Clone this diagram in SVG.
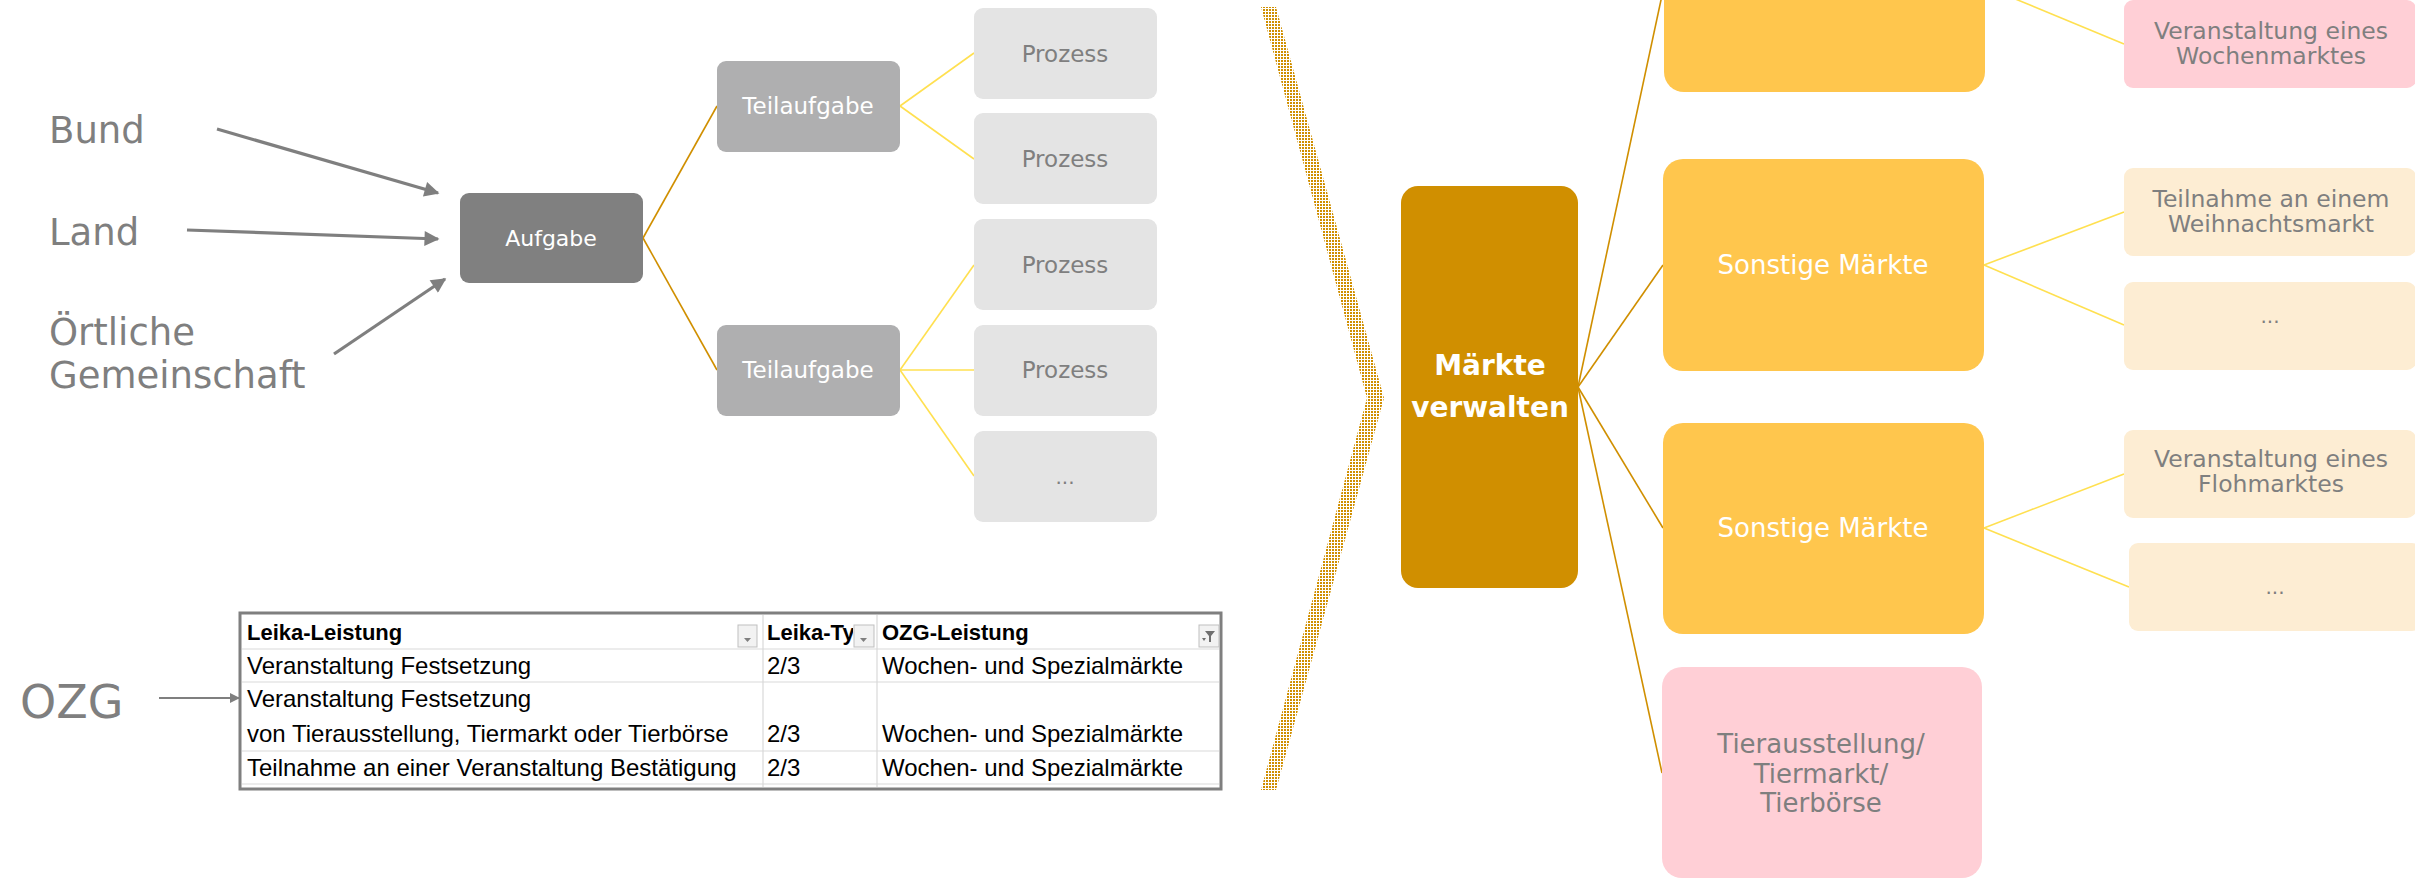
<svg xmlns="http://www.w3.org/2000/svg" width="2415" height="878" viewBox="0 0 2415 878">
<style>
  .t { font-family: "DejaVu Sans", Verdana, sans-serif; }
  .lbl { fill: #7F7F7F; font-size: 37px; }
  .wt { fill: #FFFFFF; text-anchor: middle; }
  .gt { fill: #7F7F7F; text-anchor: middle; }
  .s23 { font-size: 23px; }
  .s26 { font-size: 26px; }
  .oc { stroke: #D08F00; stroke-width: 1.6; fill: none; }
  .yc { stroke: #FFE050; stroke-width: 1.6; fill: none; }
  .ga { stroke: #7F7F7F; stroke-width: 3.2; fill: none; }
  .tb { font-family: "Liberation Sans", Arial, sans-serif; font-size: 24px; fill: #000; }
  .tbh { font-family: "Liberation Sans", Arial, sans-serif; font-size: 22px; font-weight: bold; fill: #000; }
  .grid { stroke: #D9D9D9; stroke-width: 1.2; }
  .btn { fill: #F2F2F2; stroke: #BFBFBF; stroke-width: 1; }
</style>
<defs>
  <marker id="ah" viewBox="0 0 10 10" refX="9" refY="5" markerWidth="17" markerHeight="15" markerUnits="userSpaceOnUse" orient="auto">
    <path d="M0,0 L10,5 L0,10 Z" fill="#7F7F7F"/>
  </marker>
  <marker id="ahs" viewBox="0 0 10 10" refX="9" refY="5" markerWidth="10" markerHeight="10" markerUnits="userSpaceOnUse" orient="auto">
    <path d="M0,0 L10,5 L0,10 Z" fill="#7F7F7F"/>
  </marker>
  <pattern id="dots" width="3" height="3" patternUnits="userSpaceOnUse">
    <rect x="0" y="0" width="2" height="2" fill="#D08F00"/>
  </pattern>
  <clipPath id="col2"><rect x="763" y="613" width="90" height="40"/></clipPath>
</defs>

<!-- Source labels -->
<g id="label-bund"><text class="t lbl" x="49" y="143">Bund</text></g>
<g id="label-land"><text class="t lbl" x="49" y="245">Land</text></g>
<g id="label-oertliche"><text class="t lbl" x="49" y="345">Örtliche</text><text class="t lbl" x="49" y="388">Gemeinschaft</text></g>
<g id="label-ozg"><text class="t" x="20" y="718" font-size="46" fill="#7F7F7F">OZG</text></g>

<!-- Connectors -->
<g id="connectors">
  <line class="ga" x1="217" y1="129" x2="438" y2="193" marker-end="url(#ah)"/>
  <line class="ga" x1="187" y1="230" x2="438" y2="239" marker-end="url(#ah)"/>
  <line class="ga" x1="334" y1="354" x2="445" y2="279" marker-end="url(#ah)"/>
  <line x1="159" y1="698" x2="239" y2="698" stroke="#7F7F7F" stroke-width="2" marker-end="url(#ahs)"/>

  <line class="oc" x1="643" y1="238" x2="717" y2="106"/>
  <line class="oc" x1="643" y1="238" x2="717" y2="370"/>
  <line class="yc" x1="900" y1="106" x2="974" y2="53"/>
  <line class="yc" x1="900" y1="106" x2="974" y2="159"/>
  <line class="yc" x1="900" y1="370" x2="974" y2="265"/>
  <line class="yc" x1="900" y1="370" x2="974" y2="370" stroke-width="2.2"/>
  <line class="yc" x1="900" y1="370" x2="974" y2="476"/>

  <line class="oc" x1="1578" y1="387" x2="1664" y2="-14"/>
  <line class="oc" x1="1578" y1="387" x2="1663" y2="265"/>
  <line class="oc" x1="1578" y1="387" x2="1663" y2="528"/>
  <line class="oc" x1="1578" y1="387" x2="1662" y2="773"/>

  <line class="yc" x1="1984" y1="-14" x2="2124" y2="44"/>
  <line class="yc" x1="1984" y1="265" x2="2124" y2="212"/>
  <line class="yc" x1="1984" y1="265" x2="2124" y2="325"/>
  <line class="yc" x1="1984" y1="528" x2="2124" y2="474"/>
  <line class="yc" x1="1984" y1="528" x2="2129" y2="587"/>
</g>

<!-- Left tree -->
<g id="node-aufgabe">
  <rect x="460" y="193" width="183" height="90" rx="9" fill="#808080"/>
  <text class="t wt" x="551" y="246" font-size="22">Aufgabe</text>
</g>
<g id="node-teilaufgabe-1">
  <rect x="717" y="61" width="183" height="91" rx="9" fill="#AFAFB0"/>
  <text class="t wt s23" x="808" y="114">Teilaufgabe</text>
</g>
<g id="node-teilaufgabe-2">
  <rect x="717" y="325" width="183" height="91" rx="9" fill="#AFAFB0"/>
  <text class="t wt s23" x="808" y="378">Teilaufgabe</text>
</g>
<g id="node-prozess-1">
  <rect x="974" y="8" width="183" height="91" rx="9" fill="#E4E4E4"/>
  <text class="t gt s23" x="1065" y="62">Prozess</text>
</g>
<g id="node-prozess-2">
  <rect x="974" y="113" width="183" height="91" rx="9" fill="#E4E4E4"/>
  <text class="t gt s23" x="1065" y="167">Prozess</text>
</g>
<g id="node-prozess-3">
  <rect x="974" y="219" width="183" height="91" rx="9" fill="#E4E4E4"/>
  <text class="t gt s23" x="1065" y="273">Prozess</text>
</g>
<g id="node-prozess-4">
  <rect x="974" y="325" width="183" height="91" rx="9" fill="#E4E4E4"/>
  <text class="t gt s23" x="1065" y="378">Prozess</text>
</g>
<g id="node-prozess-5">
  <rect x="974" y="431" width="183" height="91" rx="9" fill="#E4E4E4"/>
  <text class="t gt" x="1065" y="484" font-size="20">...</text>
</g>

<!-- Table -->
<g id="table-leika">
  <rect x="240" y="613" width="981" height="176" fill="#FFFFFF" stroke="#7F7F7F" stroke-width="3"/>
  <line class="grid" x1="242" y1="649" x2="1219" y2="649"/>
  <line class="grid" x1="242" y1="682" x2="1219" y2="682"/>
  <line class="grid" x1="242" y1="751" x2="1219" y2="751"/>
  <line class="grid" x1="242" y1="784" x2="1219" y2="784"/>
  <line class="grid" x1="763" y1="615" x2="763" y2="787"/>
  <line class="grid" x1="877" y1="615" x2="877" y2="787"/>
  <text class="tbh" x="247" y="640">Leika-Leistung</text>
  <text class="tbh" x="767" y="640" clip-path="url(#col2)">Leika-Typ</text>
  <text class="tbh" x="882" y="640">OZG-Leistung</text>
  <rect class="btn" x="738" y="625" width="19" height="22"/>
  <path d="M744,638 L751,638 L747.5,642 Z" fill="#7F7F7F"/>
  <rect class="btn" x="854" y="625" width="20" height="22"/>
  <path d="M860,638 L867,638 L863.5,642 Z" fill="#7F7F7F"/>
  <rect class="btn" x="1199" y="625" width="20" height="22"/>
  <path d="M1205,631 L1215,631 L1211,636 L1211,642 L1209,642 L1209,636 Z" fill="#6F6F6F"/>
  <path d="M1202,638 L1206,638 L1204,641 Z" fill="#6F6F6F"/>
  <text class="tb" x="247" y="674">Veranstaltung Festsetzung</text>
  <text class="tb" x="767" y="674">2/3</text>
  <text class="tb" x="882" y="674">Wochen- und Spezialmärkte</text>
  <text class="tb" x="247" y="707">Veranstaltung Festsetzung</text>
  <text class="tb" x="247" y="742">von Tierausstellung, Tiermarkt oder Tierbörse</text>
  <text class="tb" x="767" y="742">2/3</text>
  <text class="tb" x="882" y="742">Wochen- und Spezialmärkte</text>
  <text class="tb" x="247" y="776">Teilnahme an einer Veranstaltung Bestätigung</text>
  <text class="tb" x="767" y="776">2/3</text>
  <text class="tb" x="882" y="776">Wochen- und Spezialmärkte</text>
</g>

<!-- Dotted chevron separator -->
<g id="separator">
  <path d="M1261,7 L1276,7 L1384,398 L1276,790 L1261,790 L1367,398 Z" fill="url(#dots)"/>
</g>

<!-- Right tree -->
<g id="node-maerkte">
  <rect x="1401" y="186" width="177" height="402" rx="17" fill="#D08F00"/>
  <text class="t wt" x="1490" y="375" font-size="28" font-weight="bold">Märkte</text>
  <text class="t wt" x="1490" y="417" font-size="28" font-weight="bold">verwalten</text>
</g>
<g id="node-top-orange">
  <rect x="1664" y="-121" width="321" height="213" rx="20" fill="#FFC64D"/>
</g>
<g id="node-sonstige-1">
  <rect x="1663" y="159" width="321" height="212" rx="20" fill="#FFC64D"/>
  <text class="t wt s26" x="1823" y="274">Sonstige Märkte</text>
</g>
<g id="node-sonstige-2">
  <rect x="1663" y="423" width="321" height="211" rx="20" fill="#FFC64D"/>
  <text class="t wt s26" x="1823" y="537">Sonstige Märkte</text>
</g>
<g id="node-tier">
  <rect x="1662" y="667" width="320" height="211" rx="20" fill="#FFCFD6"/>
  <text class="t gt s26" x="1821" y="753">Tierausstellung/</text>
  <text class="t gt s26" x="1821" y="783">Tiermarkt/</text>
  <text class="t gt s26" x="1821" y="812">Tierbörse</text>
</g>
<g id="node-wochenmarkt">
  <rect x="2124" y="0" width="292" height="88" rx="9" fill="#FFCFD6"/>
  <text class="t gt" x="2271" y="39" font-size="23.5">Veranstaltung eines</text>
  <text class="t gt" x="2271" y="64" font-size="23.5">Wochenmarktes</text>
</g>
<g id="node-weihnachtsmarkt">
  <rect x="2124" y="168" width="292" height="88" rx="9" fill="#FDEDD3"/>
  <text class="t gt" x="2271" y="207" font-size="23.5">Teilnahme an einem</text>
  <text class="t gt" x="2271" y="232" font-size="23.5">Weihnachtsmarkt</text>
</g>
<g id="node-etc-1">
  <rect x="2124" y="282" width="292" height="88" rx="9" fill="#FDEDD3"/>
  <text class="t gt" x="2270" y="323" font-size="20">...</text>
</g>
<g id="node-flohmarkt">
  <rect x="2124" y="430" width="292" height="88" rx="9" fill="#FDEDD3"/>
  <text class="t gt" x="2271" y="467" font-size="23.5">Veranstaltung eines</text>
  <text class="t gt" x="2271" y="492" font-size="23.5">Flohmarktes</text>
</g>
<g id="node-etc-2">
  <rect x="2129" y="543" width="292" height="88" rx="9" fill="#FDEDD3"/>
  <text class="t gt" x="2275" y="594" font-size="20">...</text>
</g>
</svg>
